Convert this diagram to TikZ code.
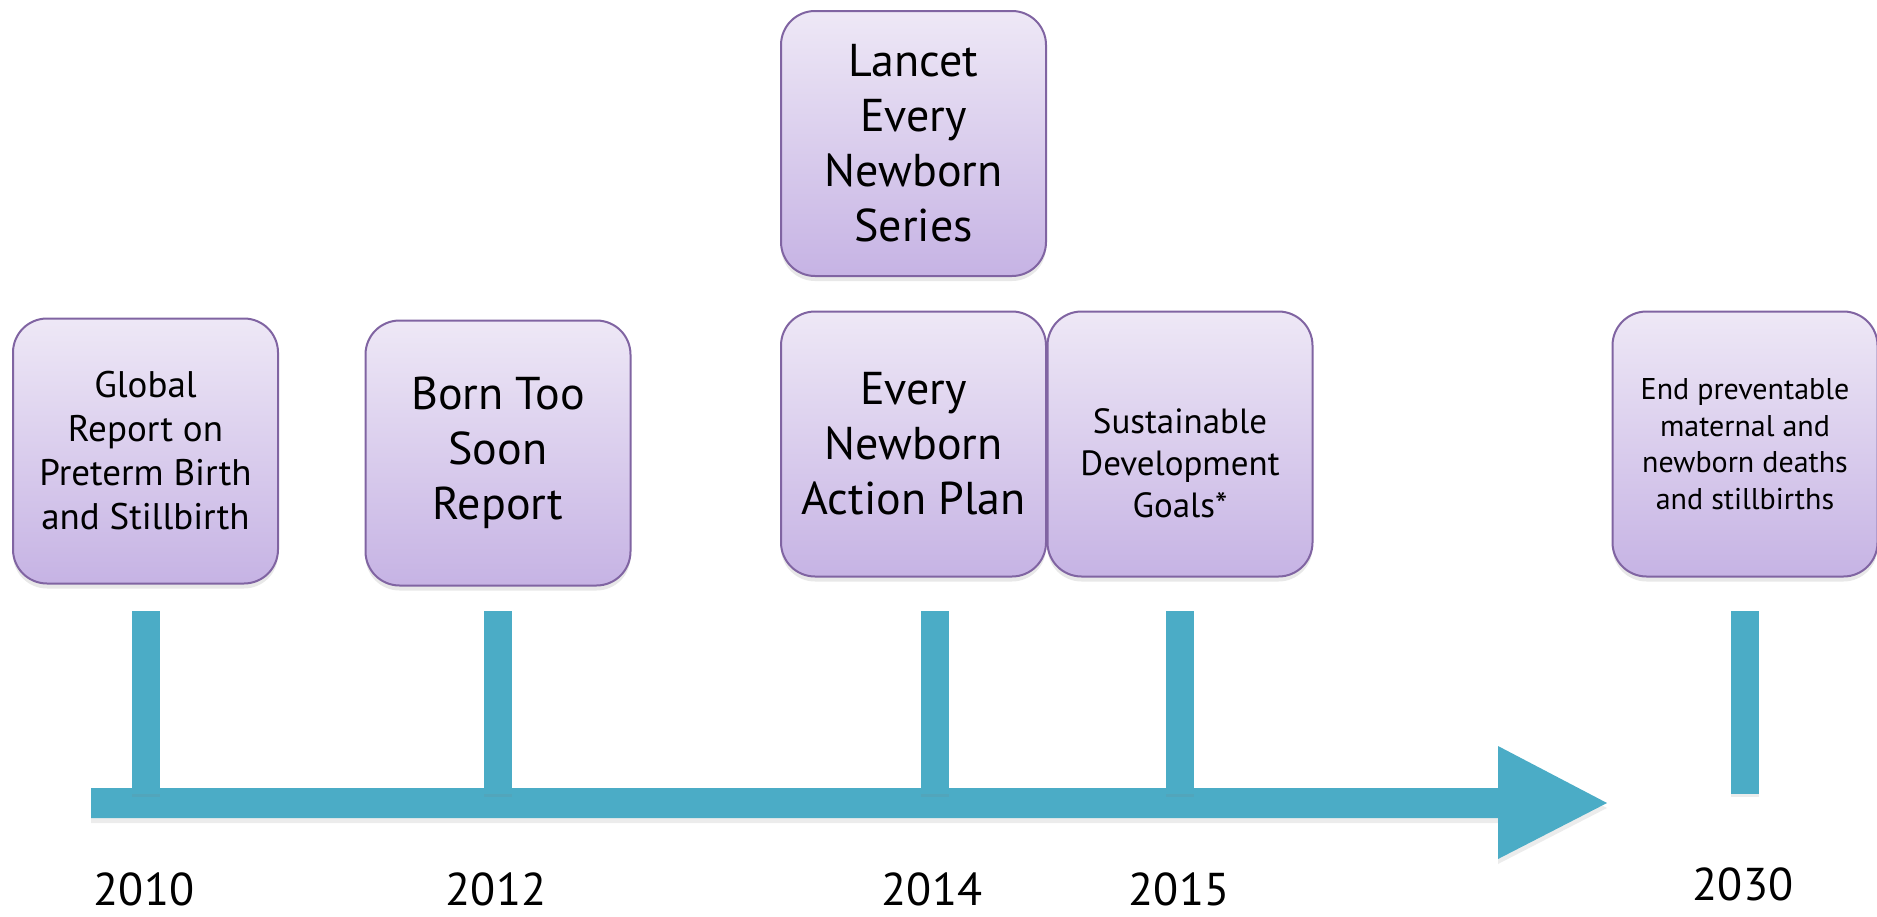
\documentclass[tikz,border=0pt]{standalone}
\usepackage{fontspec}
\setmainfont{PT Sans}
\usetikzlibrary{shadows}
\definecolor{boxedge}{HTML}{8064A2}
\definecolor{boxtop}{HTML}{EEE8F6}
\definecolor{boxbot}{HTML}{C6B3E4}
\definecolor{linecol}{HTML}{4BACC6}
\begin{document}
\begin{tikzpicture}[x=1pt,y=-1pt,
  event/.style={draw=boxedge, line width=2pt, rounded corners=34pt,
    top color=boxtop, bottom color=boxbot,
    minimum width=265pt, minimum height=265pt, align=center, inner sep=0pt,
    drop shadow={shadow xshift=0pt, shadow yshift=-5pt, opacity=0.18}},
  bigtxt/.style={font=\fontsize{46}{55}\selectfont},
  midtxt/.style={font=\fontsize{37}{44}\selectfont},
  sdgtxt/.style={font=\fontsize{35}{42}\selectfont},
  smalltxt/.style={font=\fontsize{30}{36.5}\selectfont},
  tick/.style={fill=linecol, draw=none},
  year/.style={font=\fontsize{46}{55}\selectfont, inner sep=0pt}]
\useasboundingbox (0,0) rectangle (1877,916);

% timeline arrow
\fill[linecol, drop shadow={shadow xshift=0pt, shadow yshift=-5pt, opacity=0.15}]
  (91,788) -- (1498,788) -- (1498,746) -- (1607,803) -- (1498,859)
  -- (1498,818) -- (91,818) -- cycle;

% year markers
\foreach \cx/\nm in {146/t2010, 498/t2012, 935/t2014, 1180/t2015, 1745/t2030}{
  \fill[tick, drop shadow={shadow xshift=0pt, shadow yshift=-3pt, opacity=0.15}]
    (\cx-14,611) rectangle (\cx+14,794);
  \coordinate (\nm) at (\cx,611);
}

% milestones
\node[event, midtxt] (global) at (145.5,451)
  {Global\\Report on\\Preterm Birth\\and Stillbirth};
\node[event, bigtxt] (btsr) at (498,453) {Born Too\\Soon\\Report};
\node[event, bigtxt] (lancet) at (913.5,143.5)
  {Lancet\\Every\\Newborn\\Series};
\node[event, bigtxt] (enap) at (913.5,444) {Every\\Newborn\\Action Plan};
\node[event] (sdg) at (1180,444) {};
\node[sdgtxt, align=center, inner sep=0pt] (sdgtext) at (1180,463)
  {Sustainable\\Development\\Goals*};
\node[event, smalltxt] (endgoal) at (1745,444)
  {End preventable\\maternal and\\newborn deaths\\and stillbirths};

% year labels
\node[year] (y2010) at (144,889) {2010};
\node[year] (y2012) at (496,889) {2012};
\node[year] (y2014) at (932,889) {2014};
\node[year] (y2015) at (1179,889) {2015};
\node[year] (y2030) at (1743,884) {2030};
\end{tikzpicture}
\end{document}
